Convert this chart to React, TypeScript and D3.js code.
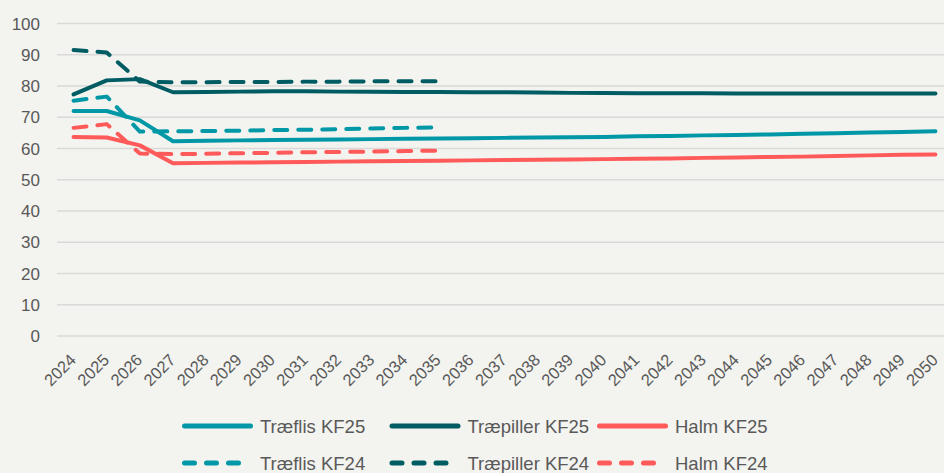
import React from "react";
import * as d3 from "d3";

const years = d3.range(2024, 2051).map(String);
const yTicks = [0, 10, 20, 30, 40, 50, 60, 70, 80, 90, 100];

const traeflisKF25 = [72, 72, 69, 62.3, 62.5, 62.6, 62.7, 62.8, 62.9, 63.0, 63.1, 63.2, 63.3, 63.4, 63.5, 63.6, 63.7, 63.9, 64.0, 64.2, 64.3, 64.5, 64.7, 64.9, 65.1, 65.3, 65.5];
const traepillerKF25 = [77.3, 81.8, 82.2, 78, 78.1, 78.2, 78.3, 78.3, 78.2, 78.2, 78.1, 78.1, 78.0, 78.0, 77.9, 77.8, 77.8, 77.7, 77.7, 77.7, 77.6, 77.6, 77.6, 77.6, 77.6, 77.6, 77.6];
const halmKF25 = [63.7, 63.5, 61, 55.3, 55.4, 55.5, 55.6, 55.7, 55.8, 55.9, 56.0, 56.1, 56.2, 56.3, 56.4, 56.5, 56.6, 56.7, 56.8, 57.0, 57.1, 57.3, 57.4, 57.6, 57.8, 58.0, 58.1];
const traeflisKF24 = [75.3, 76.6, 65.4, 65.5, 65.6, 65.7, 65.9, 66.0, 66.2, 66.4, 66.6, 66.8];
const traepillerKF24 = [91.5, 90.7, 81.4, 81.2, 81.2, 81.3, 81.3, 81.4, 81.4, 81.5, 81.5, 81.5];
const halmKF24 = [66.6, 67.8, 58.4, 58.2, 58.3, 58.5, 58.6, 58.8, 58.9, 59.0, 59.2, 59.3];

const TEAL = "#0098a6";
const DARK = "#005c63";
const RED = "#ff5a5a";

const series = [
  { name: "Træflis KF25", values: traeflisKF25, color: TEAL, dashed: false },
  { name: "Træpiller KF25", values: traepillerKF25, color: DARK, dashed: false },
  { name: "Halm KF25", values: halmKF25, color: RED, dashed: false },
  { name: "Træflis KF24", values: traeflisKF24, color: TEAL, dashed: true },
  { name: "Træpiller KF24", values: traepillerKF24, color: DARK, dashed: true },
  { name: "Halm KF24", values: halmKF24, color: RED, dashed: true },
];

const W = 944;
const H = 473;
const FONT = "'Liberation Sans', Arial, Helvetica, sans-serif";
const TXT = "#595959";

export default function App() {
  const x = d3.scalePoint<string>().domain(years).range([57, 952]).padding(0.5);
  const y = d3.scaleLinear().domain([0, 100]).range([336, 23.5]);
  const line = d3
    .line<number>()
    .x((_, i) => x(years[i]) as number)
    .y((d) => y(d));

  return (
    <svg
      width={W}
      height={H}
      style={{ position: "absolute", left: 0, top: 0, background: "#f3f3ef" }}
      fontFamily={FONT}
    >
      <rect width={W} height={H} fill="#f3f3ef" />
      {yTicks.map((t) => (
        <g key={t}>
          <line x1={57} x2={W} y1={y(t)} y2={y(t)} stroke="#d9d9d9" strokeWidth={1.5} />
          <text x={40} y={y(t)} dy="0.36em" textAnchor="end" fontSize={17} fill={TXT}>
            {t}
          </text>
        </g>
      ))}
      {years.map((yr) => (
        <text
          key={yr}
          transform={`translate(${(x(yr) as number) + 3.5},${361}) rotate(-45)`}
          textAnchor="end"
          fontSize={16.5}
          fill={TXT}
        >
          {yr}
        </text>
      ))}
      {series.map((s) => (
        <path
          key={s.name}
          d={line(s.values) || ""}
          fill="none"
          stroke={s.color}
          strokeWidth={4}
          strokeLinecap="round"
          strokeLinejoin="round"
          strokeDasharray={s.dashed ? "13,11" : undefined}
        />
      ))}
      {series.map((s, i) => {
        const col = i % 3;
        const row = Math.floor(i / 3);
        const lx = 184.5 + col * 207.5;
        const ly = 426 + row * 37;
        return (
          <g key={"lg" + s.name}>
            <line
              x1={lx}
              x2={s.dashed ? lx + 54 : lx + 66}
              y1={ly}
              y2={ly}
              stroke={s.color}
              strokeWidth={5}
              strokeLinecap="round"
              strokeDasharray={s.dashed ? "10,12" : undefined}
            />
            <text x={lx + 75.5} y={ly} dy="0.36em" fontSize={18.5} fill={TXT}>
              {s.name}
            </text>
          </g>
        );
      })}
    </svg>
  );
}
